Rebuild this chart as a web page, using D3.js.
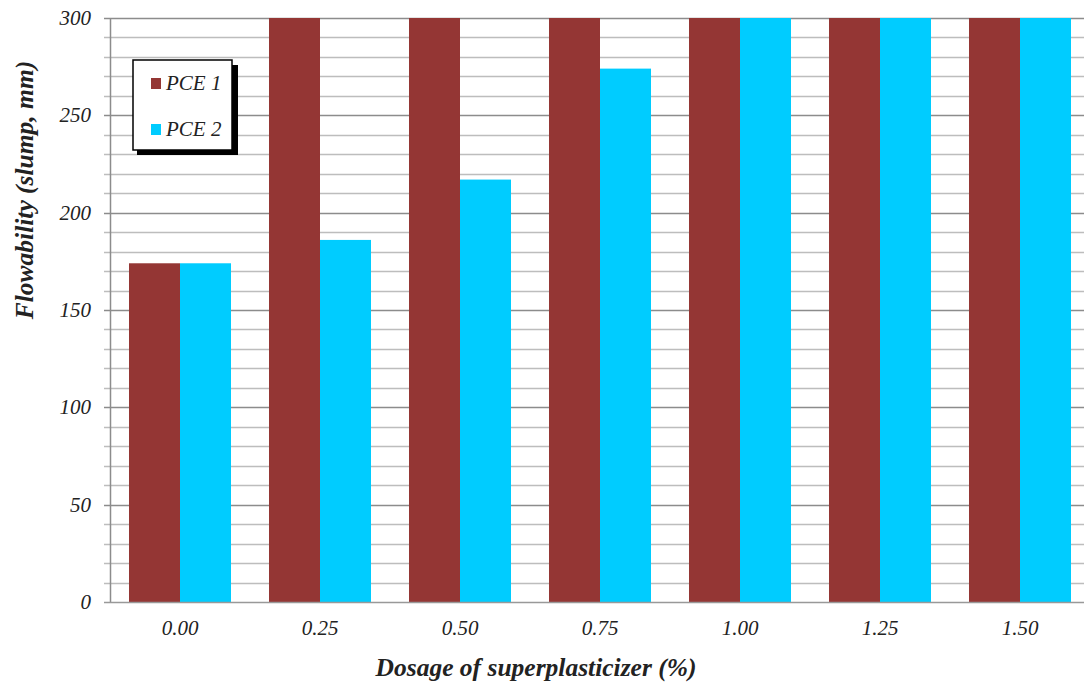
<!DOCTYPE html>
<html>
<head>
  <meta charset="utf-8">
  <script src="https://d3js.org/d3.v7.min.js"></script>
  <style>
    body { margin: 0; background: #fff; }
    text { font-family: "Liberation Serif", "Times New Roman", serif; font-style: italic; fill: #222; }
  </style>
</head>
<body>
  <script>
    var dosages = ["0.00", "0.25", "0.50", "0.75", "1.00", "1.25", "1.50"];
    var seriesNames = ["PCE 1", "PCE 2"];
    var pce1 = [174, 300, 300, 300, 300, 300, 300];
    var pce2 = [174, 186, 217, 274, 300, 300, 300];
    var colors = ["#943634", "#00ccff"];
    var yTicks = [0, 50, 100, 150, 200, 250, 300];

    var width = 1084, height = 689;
    var plotLeft = 110, plotTop = 18, plotRight = 1090, plotBottom = 602;

    var svg = d3.select("body").append("svg")
        .attr("width", width)
        .attr("height", height);

    var x = d3.scaleBand()
        .domain(dosages)
        .range([plotLeft, plotRight])
        .paddingInner(0.2714)
        .paddingOuter(0.1357);

    var xs = d3.scaleBand()
        .domain(seriesNames)
        .range([0, x.bandwidth()]);

    var y = d3.scaleLinear()
        .domain([0, 300])
        .range([plotBottom, plotTop]);

    // gridlines every 10
    svg.append("g").selectAll("line")
        .data(d3.range(10, 301, 10))
        .enter().append("line")
        .attr("x1", plotLeft - 6)
        .attr("x2", width)
        .attr("y1", function(d) { return Math.round(y(d)) + 0.5; })
        .attr("y2", function(d) { return Math.round(y(d)) + 0.5; })
        .style("stroke-width", 1.3)
        .style("stroke", function(d) { return d % 50 == 0 ? "#8c8c8c" : "#bdbdbd"; });

    // bars
    var rows = dosages.map(function(d, i) { return {dose: d, vals: [pce1[i], pce2[i]]}; });
    var groups = svg.append("g").selectAll("g")
        .data(rows)
        .enter().append("g")
        .attr("transform", function(d) { return "translate(" + x(d.dose) + ",0)"; });

    groups.selectAll("rect")
        .data(function(d) { return d.vals.map(function(v, k) { return {name: seriesNames[k], v: v, k: k}; }); })
        .enter().append("rect")
        .attr("x", function(d) { return xs(d.name); })
        .attr("width", xs.bandwidth())
        .attr("y", function(d) { return y(d.v); })
        .attr("height", function(d) { return y(0) - y(d.v); })
        .attr("fill", function(d) { return colors[d.k]; });

    // axis lines
    svg.append("line")
        .attr("x1", plotLeft + 0.5).attr("x2", plotLeft + 0.5)
        .attr("y1", plotTop).attr("y2", plotBottom + 0.5)
        .style("stroke", "#8c8c8c").style("stroke-width", 1.5);
    svg.append("line")
        .attr("x1", plotLeft - 6).attr("x2", width)
        .attr("y1", plotBottom + 0.5).attr("y2", plotBottom + 0.5)
        .style("stroke", "#999").style("stroke-width", 1.5);

    // y tick labels
    svg.append("g").selectAll("text")
        .data(yTicks)
        .enter().append("text")
        .attr("x", 91)
        .attr("y", function(d) { return y(d) + 7; })
        .attr("text-anchor", "end")
        .style("font-size", "21px")
        .text(function(d) { return d; });

    // x tick labels
    svg.append("g").selectAll("text")
        .data(dosages)
        .enter().append("text")
        .attr("x", function(d) { return x(d) + x.bandwidth() / 2; })
        .attr("y", 635)
        .attr("text-anchor", "middle")
        .style("font-size", "21px")
        .text(function(d) { return d; });

    // axis titles
    svg.append("text")
        .attr("x", 536)
        .attr("y", 676)
        .attr("text-anchor", "middle")
        .style("font-size", "25.5px")
        .style("font-weight", "bold")
        .text("Dosage of superplasticizer (%)");

    svg.append("text")
        .attr("transform", "translate(33,190) rotate(-90)")
        .attr("text-anchor", "middle")
        .style("font-size", "25.5px")
        .style("font-weight", "bold")
        .text("Flowability (slump, mm)");

    // legend
    var lg = svg.append("g");
    lg.append("rect")
        .attr("x", 137).attr("y", 65).attr("width", 101).attr("height", 90)
        .attr("fill", "#000");
    lg.append("rect")
        .attr("x", 133).attr("y", 60).attr("width", 99).attr("height", 90)
        .attr("fill", "#fff").attr("stroke", "#000").attr("stroke-width", 1.5);
    var items = lg.selectAll("g.item")
        .data(seriesNames)
        .enter().append("g")
        .attr("class", "item")
        .attr("transform", function(d, i) { return "translate(151," + (78 + i * 46) + ")"; });
    items.append("rect")
        .attr("width", 10).attr("height", 11)
        .attr("fill", function(d, i) { return colors[i]; });
    items.append("text")
        .attr("x", 15).attr("y", 12)
        .style("font-size", "21px")
        .text(function(d) { return d; });
  </script>
</body>
</html>
